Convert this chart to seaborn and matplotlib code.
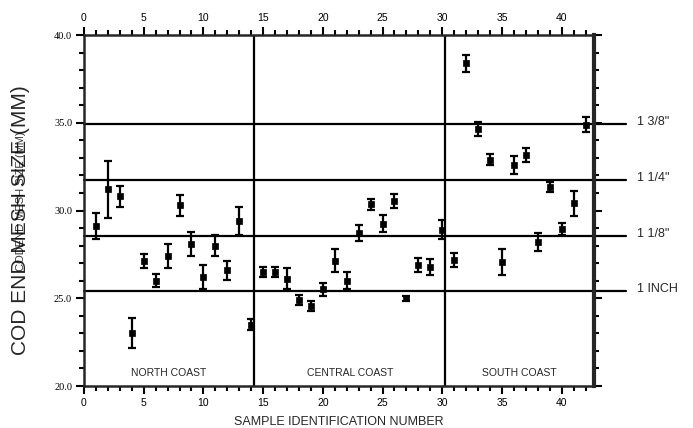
import numpy as np
import pandas as pd
import seaborn as sns
import matplotlib.pyplot as plt
from matplotlib.ticker import MultipleLocator, FormatStrFormatter

# sample number, mean cod end mesh size (mm) and error half-width
sample_id = list(range(1, 43))
mesh_mean = [29.1, 31.2, 30.8, 23.0, 27.1, 26.0, 27.4, 30.3, 28.1, 26.2,
             28.0, 26.6, 29.4, 23.5, 26.5, 26.5, 26.1, 24.9, 24.55, 25.5,
             27.15, 26.0, 28.7, 30.35, 29.25, 30.55, 25.0, 26.9, 26.8, 28.9,
             27.2, 38.4, 34.65, 32.9, 27.05, 32.6, 33.15, 28.2, 31.35, 28.95,
             30.4, 34.9]
mesh_err = [0.75, 1.6, 0.6, 0.85, 0.4, 0.38, 0.7, 0.6, 0.7, 0.67,
            0.6, 0.55, 0.8, 0.3, 0.3, 0.3, 0.6, 0.3, 0.3, 0.38,
            0.65, 0.5, 0.45, 0.3, 0.48, 0.4, 0.15, 0.38, 0.45, 0.55,
            0.4, 0.48, 0.4, 0.33, 0.73, 0.5, 0.4, 0.5, 0.28, 0.35,
            0.7, 0.45]

# reference mesh sizes (inch -> mm)
ref_mm = [25.4, 28.575, 31.75, 34.925]
ref_labels = ['1 INCH', '1 1/8"', '1 1/4"', '1 3/8"']

# coast regions
region_names = ["NORTH COAST", "CENTRAL COAST", "SOUTH COAST"]
region_bounds = [0, 14.25, 30.25, 42.7]

df = pd.DataFrame({"sample": sample_id, "mesh": mesh_mean, "err": mesh_err})

sns.set_style("ticks")
plt.rcParams['font.family'] = ['Liberation Sans', 'DejaVu Sans']

fig = plt.figure(figsize=(6.93, 4.28), dpi=100)
ax = fig.add_axes([0.1212, 0.0981, 0.857 - 0.1212, 0.9182 - 0.0981])

ax.errorbar(df["sample"], df["mesh"], yerr=df["err"], fmt='none',
            ecolor='black', elinewidth=1.6, capsize=3, capthick=1.6, zorder=3)
sns.scatterplot(data=df, x="sample", y="mesh", marker='s', s=24,
                color='black', edgecolor='black', linewidth=0.5, ax=ax, zorder=4)

# reference lines, extending past the right edge
for val, lab in zip(ref_mm, ref_labels):
    ax.plot([0, 45.4], [val, val], color='black', lw=1.6, clip_on=False, zorder=2)
    ax.text(46.3, val + 0.1, lab, fontsize=9, va='center', ha='left')

for b in region_bounds[1:-1]:
    ax.axvline(b, color='black', lw=1.6, zorder=2)

for i, name in enumerate(region_names):
    xc = (region_bounds[i] + region_bounds[i + 1]) / 2
    ax.text(xc, 20.75, name, fontsize=7.5, ha='center', va='center')

ax.set_xlim(0, 42.7)
ax.set_ylim(20, 40)
ax.xaxis.set_major_locator(MultipleLocator(5))
ax.xaxis.set_minor_locator(MultipleLocator(1))
ax.yaxis.set_major_locator(MultipleLocator(5))
ax.yaxis.set_minor_locator(MultipleLocator(1))
ax.yaxis.set_major_formatter(FormatStrFormatter('%.1f'))

ax.tick_params(which='both', direction='out', top=True, right=True,
               labeltop=True, labelright=False, colors='black', width=1.5)
ax.tick_params(which='major', length=6, labelsize=7.5, pad=2.5)
ax.tick_params(which='minor', length=3.5)
for t in ax.get_yticklabels():
    t.set_family(['Liberation Serif', 'DejaVu Serif'])

for side in ['left', 'top', 'bottom']:
    ax.spines[side].set_linewidth(1.8)
ax.spines['right'].set_linewidth(3)

ax.set_xlabel("SAMPLE IDENTIFICATION NUMBER", fontsize=9, labelpad=6)
ax.set_ylabel("")

# overlapping y-axis labels as in the original
fig.text(0.029, 0.485, "COD END MESH SIZE (MM)", rotation=90, fontsize=15,
         ha='center', va='center')
fig.text(0.031, 0.53, "CODEND MESH SIZE (MM)", rotation=90, fontsize=8,
         ha='center', va='center', color='black', alpha=0.8)

fig.savefig("out.png", dpi=100)
